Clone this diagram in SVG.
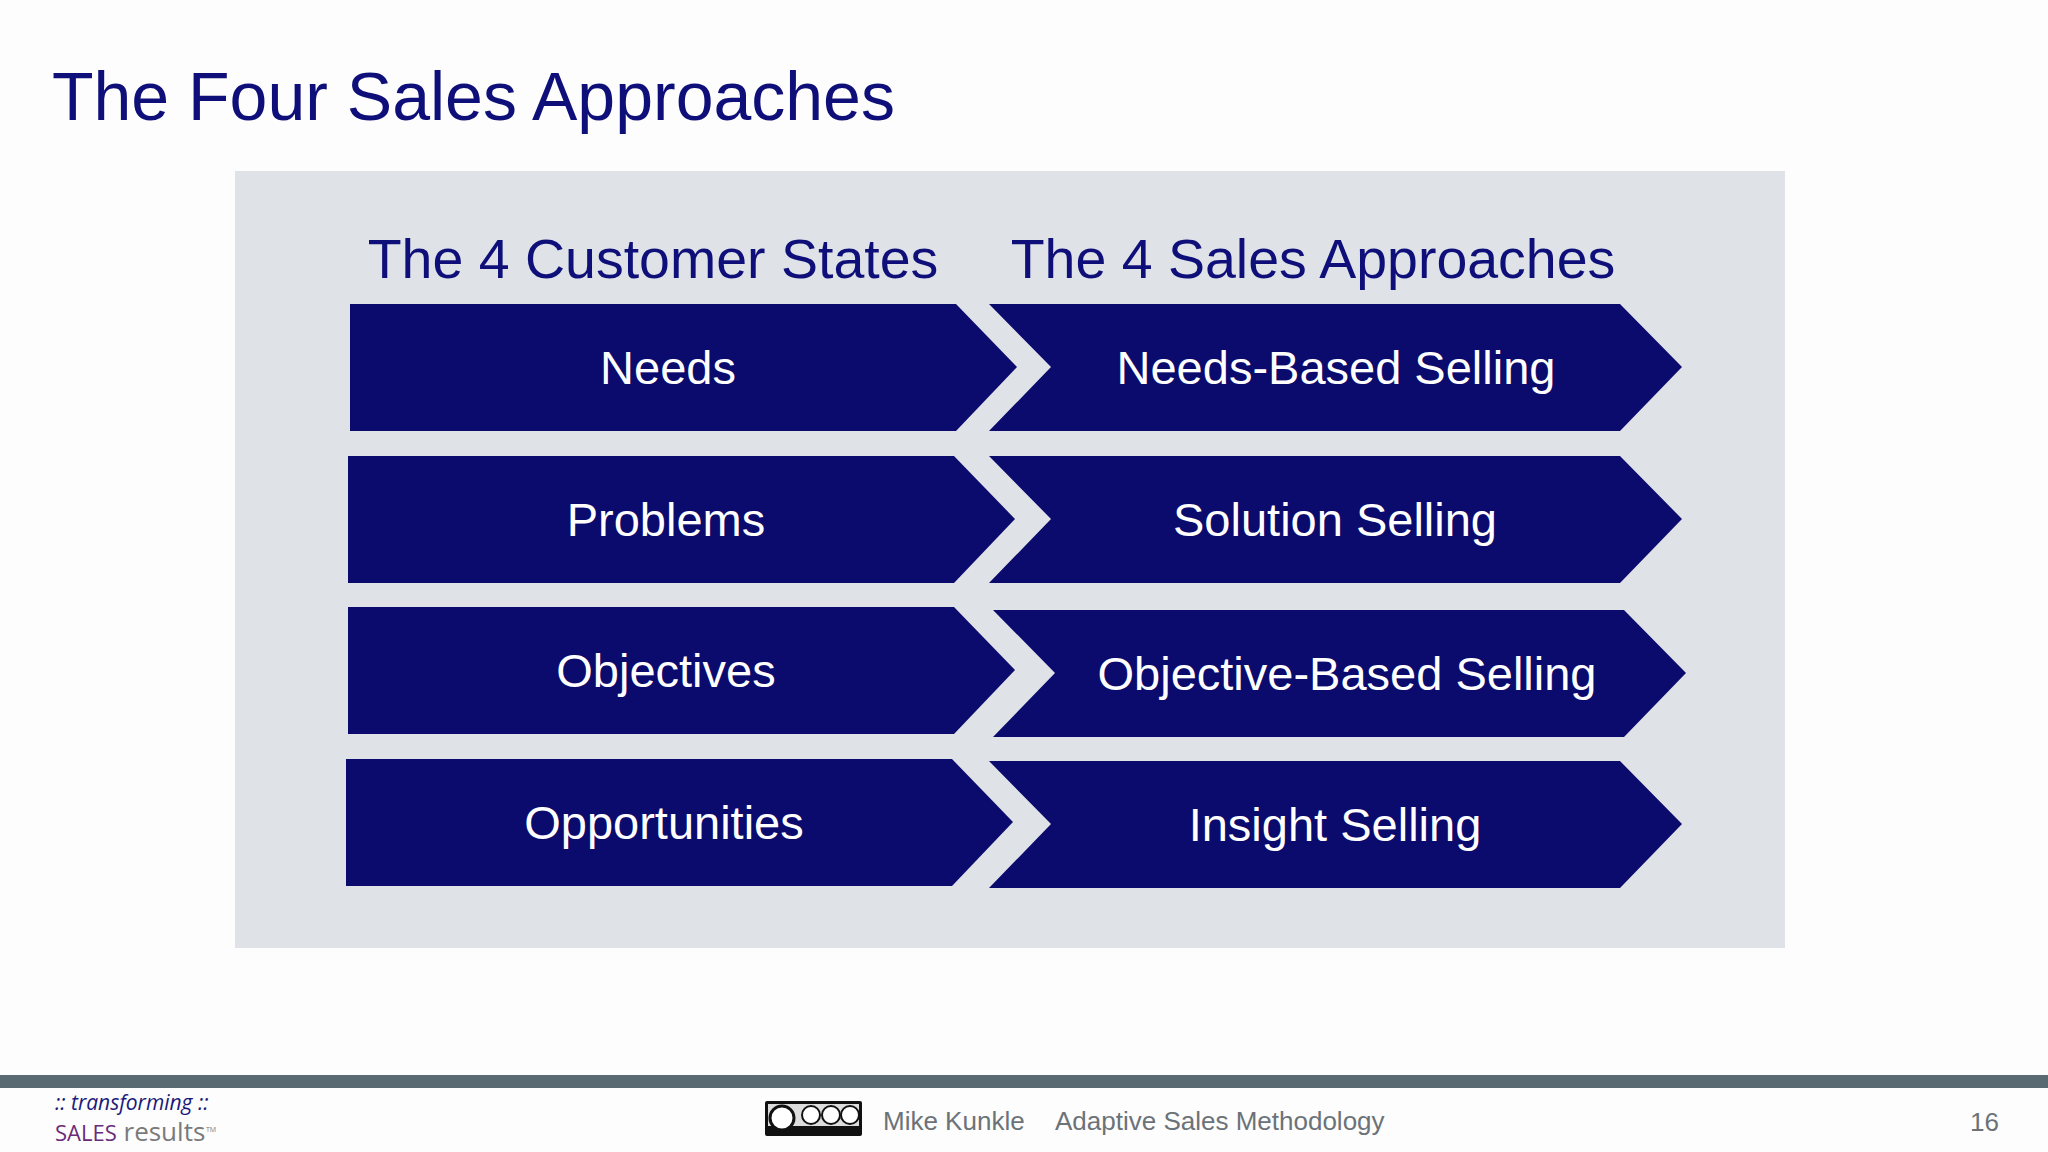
<svg xmlns="http://www.w3.org/2000/svg" width="2048" height="1152" viewBox="0 0 2048 1152">
<style>
.h{font-family:"Liberation Sans",Arial,sans-serif;fill:#0f0f7a}
.a{fill:#0b0b6e}
.t{font-family:"Liberation Sans",Arial,sans-serif;fill:#fff;font-size:47px;text-anchor:middle}
.f{font-family:"Liberation Sans",Arial,sans-serif;fill:#6b7379;font-size:26px}
</style>
<rect width="2048" height="1152" fill="#fdfdfd"/>
<text class="h" x="52" y="120" font-size="68">The Four Sales Approaches</text>
<rect x="235" y="171" width="1550" height="777" fill="#dfe3e8"/>
<text class="h" x="653" y="278" font-size="55.5" text-anchor="middle">The 4 Customer States</text>
<text class="h" x="1313" y="278" font-size="55.5" text-anchor="middle">The 4 Sales Approaches</text>
<g id="n1"><polygon class="a" points="350,304 956,304 1017,367 956,431 350,431"/><text class="t" x="668" y="384">Needs</text></g>
<g id="n2"><polygon class="a" points="989,304 1620,304 1682,367 1620,431 989,431 1051,367"/><text class="t" x="1336" y="384">Needs-Based Selling</text></g>
<g id="n3"><polygon class="a" points="348,456 954,456 1015,519 954,583 348,583"/><text class="t" x="666" y="536">Problems</text></g>
<g id="n4"><polygon class="a" points="989,456 1620,456 1682,519 1620,583 989,583 1051,519"/><text class="t" x="1335" y="536">Solution Selling</text></g>
<g id="n5"><polygon class="a" points="348,607 954,607 1015,670 954,734 348,734"/><text class="t" x="666" y="687">Objectives</text></g>
<g id="n6"><polygon class="a" points="993,610 1624,610 1686,673 1624,737 993,737 1055,673"/><text class="t" x="1347" y="690">Objective-Based Selling</text></g>
<g id="n7"><polygon class="a" points="346,759 952,759 1013,822 952,886 346,886"/><text class="t" x="664" y="839">Opportunities</text></g>
<g id="n8"><polygon class="a" points="989,761 1620,761 1682,824 1620,888 989,888 1051,824"/><text class="t" x="1335" y="841">Insight Selling</text></g>
<g id="connectors"/>
<rect x="0" y="1075" width="2048" height="13" fill="#5a6a73"/>
<text x="55" y="1110" font-family="'Open Sans',sans-serif" font-style="italic" font-size="21" fill="#1a1a7a">:: transforming ::</text>
<text x="55" y="1141" font-family="'Open Sans',sans-serif" font-size="26"><tspan fill="#6a2a7a" font-size="22">SALES</tspan><tspan fill="#7a7a7a"> results</tspan></text>
<text x="206" y="1132" font-family="'Open Sans',sans-serif" font-size="7" fill="#7a7a7a">TM</text>
<g id="cc"><rect x="765" y="1101" width="97" height="35" fill="#111" rx="2"/><rect x="768" y="1104" width="91" height="22" fill="#ddd"/><circle cx="782" cy="1118" r="12" fill="#fff" stroke="#111" stroke-width="3"/><circle cx="811" cy="1115" r="9" fill="#fff" stroke="#111" stroke-width="2"/><circle cx="831" cy="1115" r="9" fill="#fff" stroke="#111" stroke-width="2"/><circle cx="850" cy="1115" r="9" fill="#fff" stroke="#111" stroke-width="2"/></g>
<text class="f" x="883" y="1130">Mike Kunkle</text>
<text class="f" x="1055" y="1130">Adaptive Sales Methodology</text>
<text class="f" x="1970" y="1131">16</text>
</svg>
